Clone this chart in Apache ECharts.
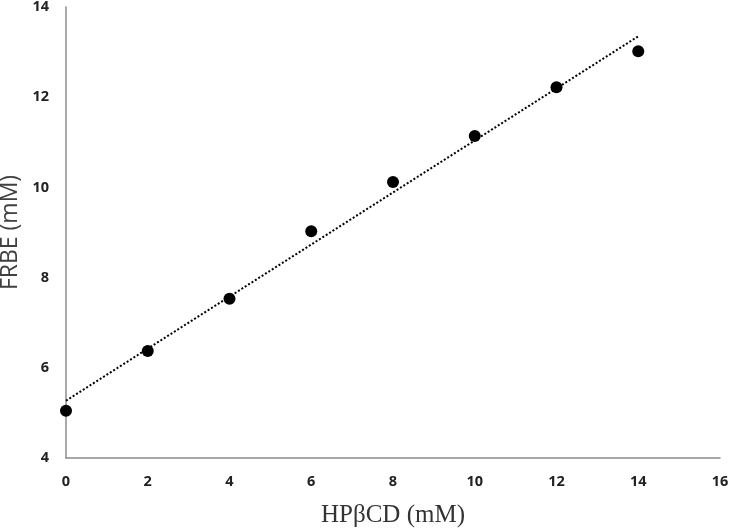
<!DOCTYPE html>
<html><head><meta charset="utf-8">
<script src="https://cdn.jsdelivr.net/npm/echarts@6/dist/echarts.min.js"></script>
<style>html,body{margin:0;padding:0;background:#fff}#c{width:734px;height:528px}</style>
</head><body><div id="c"></div>
<script>
const xValues = [0, 2, 4, 6, 8, 10, 12, 14];
const yValues = [5.05, 6.37, 7.53, 9.03, 10.12, 11.14, 12.22, 13.02];
const trendX = [0, 14];
const trendY = [5.27, 13.35];
const chart = echarts.init(document.getElementById('c'));
chart.setOption({
  animation: false,
  grid: {left: 66, right: 14, top: 7, bottom: 70, containLabel: false, outerBoundsMode: 'none'},
  xAxis: {
    type: 'value', min: 0, max: 16, interval: 2,
    name: 'HPβCD (mM)', nameLocation: 'middle', nameGap: 45,
    nameTextStyle: {fontFamily: 'Liberation Serif', fontSize: 25, color: '#333'},
    axisLine: {lineStyle: {color: '#8c8c8c', width: 1.5}},
    axisTick: {show: false}, splitLine: {show: false},
    axisLabel: {fontFamily: 'Open Sans', fontWeight: 'bold', fontSize: 14.5, color: '#222', margin: 16}
  },
  yAxis: {
    type: 'value', min: 4, max: 14, interval: 2,
    name: 'FRBE (mM)', nameLocation: 'middle', nameGap: 40,
    nameTextStyle: {fontFamily: 'Open Sans', fontSize: 23, color: '#404040'},
    axisLine: {show: true, lineStyle: {color: '#8c8c8c', width: 1.5}},
    axisTick: {show: false}, splitLine: {show: false},
    axisLabel: {fontFamily: 'Open Sans', fontWeight: 'bold', fontSize: 14.5, color: '#222', margin: 17}
  },
  series: [
    {type: 'line', data: trendX.map((x, i) => [x, trendY[i]]), showSymbol: false,
     lineStyle: {color: '#000', width: 2, type: [2, 2]}, z: 1},
    {type: 'scatter', data: xValues.map((x, i) => [x, yValues[i]]), symbolSize: 12,
     itemStyle: {color: '#000', opacity: 1}, z: 2}
  ]
});
</script></body></html>
